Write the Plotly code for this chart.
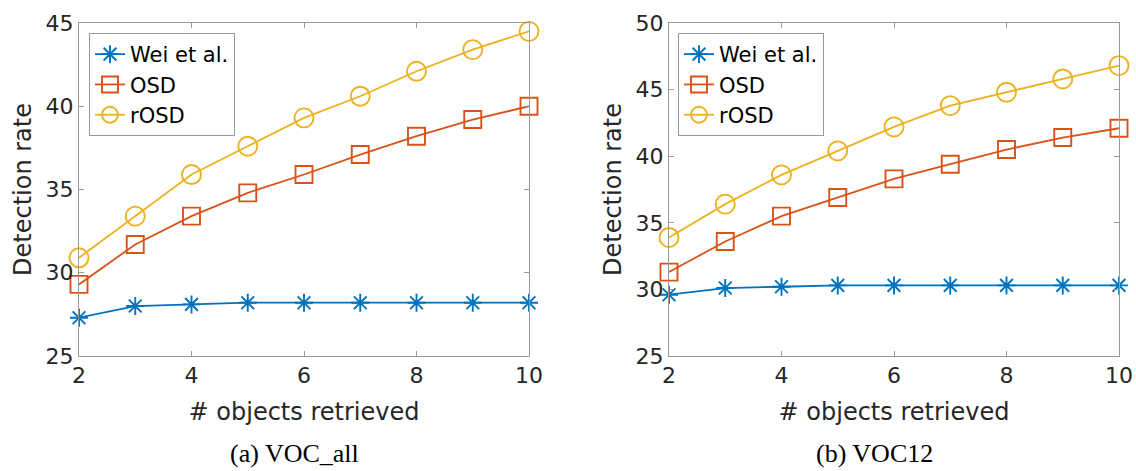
import plotly.graph_objects as go

x_vals = [2, 3, 4, 5, 6, 7, 8, 9, 10]
series_names = ["Wei et al.", "OSD", "rOSD"]

voc_all_wei = [27.3, 28.0, 28.1, 28.2, 28.2, 28.2, 28.2, 28.2, 28.2]
voc_all_osd = [29.3, 31.7, 33.4, 34.8, 35.9, 37.1, 38.2, 39.2, 40.0]
voc_all_rosd = [30.9, 33.4, 35.9, 37.6, 39.3, 40.6, 42.1, 43.4, 44.5]

voc12_wei = [29.6, 30.1, 30.2, 30.3, 30.3, 30.3, 30.3, 30.3, 30.3]
voc12_osd = [31.3, 33.6, 35.5, 36.9, 38.3, 39.4, 40.5, 41.4, 42.1]
voc12_rosd = [33.9, 36.4, 38.6, 40.4, 42.2, 43.8, 44.8, 45.8, 46.8]

x_ticks = [2, 4, 6, 8, 10]
left_y_ticks = [25, 30, 35, 40, 45]
right_y_ticks = [25, 30, 35, 40, 45, 50]
captions = ["(a) VOC_all", "(b) VOC12"]

colors = ["#0072BD", "#D95319", "#EDB120"]
symbols = ["asterisk-open", "square-open", "circle-open"]
msizes = [15, 17, 19]

FONT = "DejaVu Sans"
TXT = "#262626"
AX = "#999999"

W, H = 1136, 471


def px_x(v):
    return v / W


def px_y(v):
    return 1 - v / H


fig = go.Figure()

panels = [
    ([voc_all_wei, voc_all_osd, voc_all_rosd], "x", "y", "legend"),
    ([voc12_wei, voc12_osd, voc12_rosd], "x2", "y2", "legend2"),
]
for series, xa, ya, lg in panels:
    for i, vals in enumerate(series):
        fig.add_trace(go.Scatter(
            x=x_vals, y=vals, mode="lines+markers", name=series_names[i],
            xaxis=xa, yaxis=ya, legend=lg, cliponaxis=False,
            line=dict(color=colors[i], width=1.8),
            marker=dict(symbol=symbols[i], size=msizes[i],
                        color=colors[i], line=dict(width=1.9, color=colors[i])),
        ))

axis_common = dict(
    showline=True, linecolor=AX, linewidth=1, mirror="ticks",
    ticks="inside", ticklen=5, tickcolor=AX, showgrid=False, zeroline=False,
    automargin=False,
    tickfont=dict(family=FONT, size=22, color=TXT),
)
title_font = dict(family=FONT, size=24, color=TXT)
ydom = [px_y(356), px_y(23)]

fig.update_layout(
    width=W, height=H,
    margin=dict(l=0, r=0, t=0, b=0),
    paper_bgcolor="white", plot_bgcolor="white",
    showlegend=True,
    xaxis=dict(domain=[px_x(79), px_x(529)], range=[2, 10], tickvals=x_ticks,
               title=dict(text="# objects retrieved", standoff=15, font=title_font),
               anchor="y", **axis_common),
    yaxis=dict(domain=ydom, range=[25, 45], tickvals=left_y_ticks,
               title=dict(text="Detection rate", standoff=7, font=title_font),
               anchor="x", **axis_common),
    xaxis2=dict(domain=[px_x(669), px_x(1119)], range=[2, 10], tickvals=x_ticks,
                title=dict(text="# objects retrieved", standoff=15, font=title_font),
                anchor="y2", **axis_common),
    yaxis2=dict(domain=ydom, range=[25, 50], tickvals=right_y_ticks,
                title=dict(text="Detection rate", standoff=7, font=title_font),
                anchor="x2", **axis_common),
    legend=dict(x=px_x(89), y=px_y(33), xanchor="left", yanchor="top",
                bgcolor="white", bordercolor=AX, borderwidth=1,
                font=dict(family=FONT, size=21, color="black"),
                tracegroupgap=0, itemwidth=30),
    legend2=dict(x=px_x(678), y=px_y(33), xanchor="left", yanchor="top",
                 bgcolor="white", bordercolor=AX, borderwidth=1,
                 font=dict(family=FONT, size=21, color="black"),
                 tracegroupgap=0, itemwidth=30),
)

cap_x = [294, 874]
for cx, cap in zip(cap_x, captions):
    fig.add_annotation(x=px_x(cx), y=px_y(453), xref="paper", yref="paper",
                       xanchor="center", yanchor="middle",
                       text=cap, showarrow=False,
                       font=dict(family="Liberation Serif", size=26, color="black"))

fig.write_html("out.html",
               config={"displayModeBar": False},
               post_script="document.body.style.margin='0';document.body.style.overflow='hidden';")
